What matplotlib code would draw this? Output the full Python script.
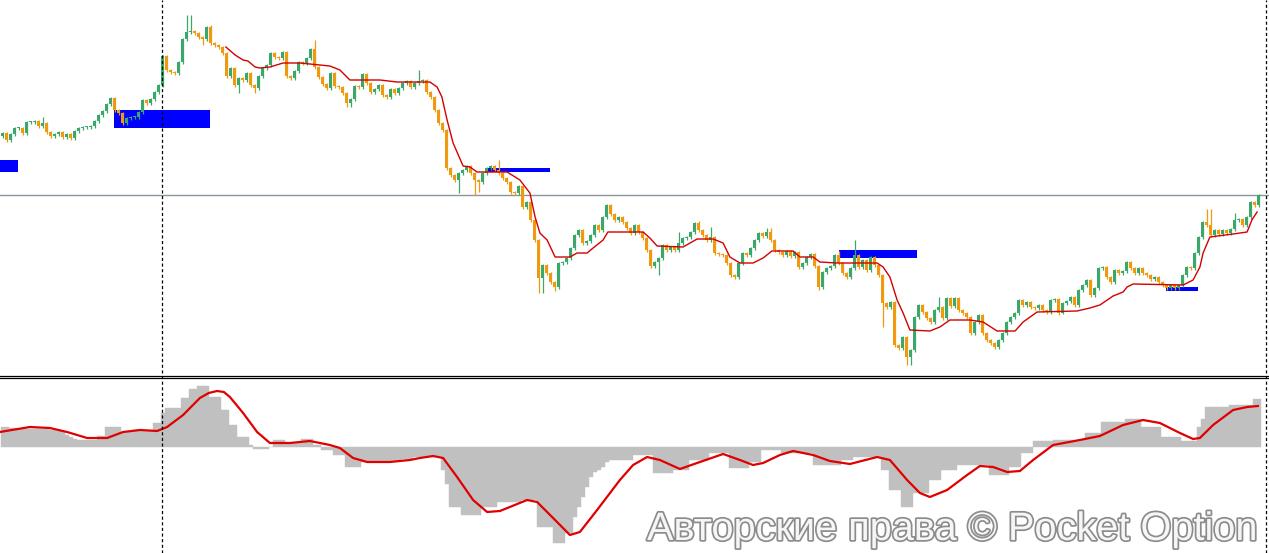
import numpy as np
import matplotlib.pyplot as plt
from matplotlib.patches import Rectangle
from matplotlib.lines import Line2D
import matplotlib.patheffects as pe

# ---------------------------------------------------------
# price data (bar closes, price units = chart points)
# ---------------------------------------------------------
FIRST_OPEN = 238
CLOSE = [
    241, 234, 240, 246, 246, 241, 252, 252, 253, 248, 251, 242, 238, 240, 242, 237, 240, 236, 243, 246,
    247, 247, 248, 253, 259, 263, 270, 276, 264, 261, 251, 256, 257, 257, 262, 274, 271, 275, 282, 289,
    318, 304, 302, 301, 312, 335, 342, 343, 341, 337, 335, 347, 331, 329, 327, 321, 298, 306, 289, 296,
    294, 301, 289, 286, 298, 306, 309, 321, 317, 316, 322, 298, 296, 303, 312, 311, 316, 325, 307, 297,
    290, 286, 301, 288, 287, 281, 271, 275, 288, 287, 300, 291, 282, 285, 289, 279, 277, 285, 281, 286,
    291, 293, 287, 291, 293, 294, 282, 277, 264, 251, 244, 206, 199, 194, 201, 204, 208, 201, 194, 192,
    201, 206, 208, 204, 201, 196, 192, 182, 181, 188, 167, 172, 154, 134, 96, 109, 101, 92, 87, 111,
    112, 116, 126, 139, 144, 131, 133, 139, 149, 144, 157, 169, 160, 154, 157, 152, 146, 141, 149, 142,
    136, 124, 108, 112, 116, 129, 124, 127, 124, 131, 136, 137, 142, 151, 144, 139, 134, 137, 121, 120,
    119, 111, 99, 97, 111, 121, 119, 126, 134, 141, 138, 142, 134, 124, 122, 119, 123, 118, 122, 107,
    111, 117, 120, 108, 87, 102, 106, 108, 119, 111, 101, 97, 106, 119, 107, 114, 104, 117, 109, 99,
    71, 67, 72, 29, 26, 37, 17, 24, 57, 69, 62, 56, 52, 64, 67, 56, 76, 68, 76, 64,
    61, 57, 41, 52, 59, 41, 34, 31, 27, 34, 41, 52, 57, 61, 74, 69, 72, 67, 66, 69,
    64, 62, 74, 75, 61, 71, 73, 77, 69, 84, 89, 94, 79, 86, 106, 107, 97, 92, 104, 101,
    103, 112, 106, 101, 106, 101, 99, 95, 97, 92, 89, 86, 89, 86, 89, 99, 107, 106, 121, 137,
    152, 149, 139, 144, 140, 144, 141, 145, 154, 155, 149, 157, 172, 169, 179,
]
# bars with long shadows: bar index -> extreme
HIGH_WICKS = {10: 257, 46: 359, 47: 359, 52: 349, 78: 334, 104: 304, 124: 214, 169: 142,
              174: 153, 177: 147, 191: 146, 192: 146, 209: 123, 213: 134, 234: 77,
              301: 165, 302: 165, 308: 161}
LOW_WICKS = {50: 329, 59: 281, 63: 281, 86: 267, 87: 267, 114: 181, 118: 179, 119: 182,
             134: 81, 135: 81, 138: 83, 164: 99, 204: 84, 220: 47, 226: 9, 227: 9, 265: 60}

# moving average (red line), sampled at bar positions
MA_X = [55.8, 58.1, 60.1, 61.3, 63.1, 64.3, 66.8, 70.1, 74.3, 79.3, 81.8, 84.3, 86.8, 94.3, 98.6,
        106.8, 108.6, 109.8, 111.1, 112.6, 115.1, 116.8, 118.6, 126.1, 129.3, 131.8, 133.1, 134.3,
        136.1, 138.1, 141.8, 143.6, 146.1, 147.6, 150.1, 151.3, 160.1, 161.8, 163.6, 170.1, 173.6,
        177.6, 180.1, 181.8, 184.3, 187.6, 190.1, 192.3, 197.6, 199.3, 202.6, 204.3, 208.6, 218.6,
        220.1, 221.8, 223.6, 225.1, 226.8, 231.8, 234.3, 236.8, 241.8, 245.1, 248.6, 253.1, 255.1,
        258.6, 268.6, 271.8, 274.3, 277.6, 280.1, 281.1, 282.6, 295.1, 297.6, 299.3, 300.1, 301.8,
        307.6, 311.1, 312.3, 313.6]
MA_Y = [327, 319, 314, 313, 307, 306, 307, 311, 311, 309, 308, 304, 294, 294, 292,
        292, 287, 277, 254, 231, 208, 207, 202, 202, 194, 181, 157, 141,
        134, 117, 117, 121, 121, 126, 134, 142, 142, 136, 128, 127, 135,
        135, 131, 117, 111, 111, 116, 123, 123, 117, 117, 112, 111, 111,
        107, 97, 74, 61, 44, 43, 47, 54, 54, 52, 43, 43, 52,
        62, 63, 66, 69, 78, 82, 87, 90, 89, 94, 107, 121, 137,
        140, 142, 154, 162]

# zones (blue boxes)
ZONE_START = [-0.7, 27.8, 120.8, 209.1, 290.8]
ZONE_END = [3.8, 51.8, 136.8, 228.6, 298.8]
ZONE_LOW = [202, 246, 202, 116, 83]
ZONE_HIGH = [214, 264, 206, 124, 87]

LEVEL = 179          # horizontal level
VLINE_BARS = [39.8, 315.8]

# oscillator (lower pane)
HIST = [
    20, 20, 19, 19, 18, 18, 18, 18, 18, 18, 18, 18, 17, 17, 17, 15, 12, 10, 8, 7,
    7, 7, 7, 7, 11, 11, 20, 20, 20, 20, 15, 15, 15, 17, 17, 17, 17, 17, 24, 24,
    34, 39, 39, 39, 39, 49, 49, 58, 58, 61, 61, 61, 50, 50, 50, 37, 37, 22, 22, 10,
    10, 10, 2, -2, -2, -2, -2, 0, 7, 7, 7, 4, 4, 4, 4, 8, 8, 8, 2, 2,
    -3, -3, -3, -8, -8, -8, -20, -20, -20, -20, -15, -15, -15, -15, -15, -15, -15, -14, -14, -14,
    -12, -12, -12, -10, -10, -10, -10, -10, -10, -10, -23, -37, -60, -60, -60, -68, -68, -68, -68, -68,
    -60, -60, -60, -60, -55, -55, -55, -55, -55, -55, -53, -53, -53, -53, -80, -80, -80, -80, -96, -96,
    -96, -86, -86, -70, -60, -50, -40, -30, -25, -23, -20, -15, -13, -13, -13, -13, -13, -13, -8, -8,
    -8, -8, -8, -26, -26, -26, -26, -26, -23, -23, -23, -23, -13, -13, -13, -13, -13, -6, -6, -6,
    -6, -6, -21, -21, -21, -21, -21, -15, -15, -15, -3, -3, -3, -3, -3, -6, -6, -6, -6, -6,
    -6, -6, -6, -18, -18, -18, -18, -18, -18, -18, -13, -13, -13, -10, -10, -10, -10, -10, -10, -10,
    -23, -23, -43, -43, -43, -60, -60, -60, -46, -46, -46, -46, -33, -33, -33, -23, -23, -23, -23, -18,
    -18, -18, -18, -18, -18, -18, -18, -28, -28, -28, -28, -28, -20, -20, -20, -6, -6, -6, 6, 6,
    6, 6, 6, 7, 7, 7, 7, 7, 7, 7, 7, 14, 14, 14, 14, 25, 25, 25, 25, 25,
    25, 28, 28, 28, 28, 20, 20, 20, 20, 20, 10, 10, 10, 10, 10, 6, 6, 6, 6, 20,
    28, 40, 40, 40, 40, 40, 40, 42, 42, 42, 42, 42, 42, 48, 48,
]
SIGNAL_X = [-0.7, 6.8, 11.8, 16.1, 21.1, 26.1, 30.1, 34.3, 38.6, 41.1, 45.1, 49.3, 51.5, 53.6, 55.3,
            56.8, 60.1, 63.6, 66.8, 71.8, 76.8, 81.8, 84.3, 87.6, 91.1, 96.8, 101.8, 104.3, 107.6,
            110.1, 113.6, 117.6, 121.1, 124.3, 131.1, 133.6, 137.6, 141.8, 144.3, 148.6, 154.3,
            157.6, 161.1, 164.3, 169.3, 174.3, 180.1, 184.3, 187.6, 190.1, 194.3, 197.6, 202.6,
            206.8, 211.8, 218.6, 221.8, 226.1, 229.3, 231.8, 236.1, 241.1, 244.3, 247.6, 251.1,
            254.3, 257.6, 262.6, 269.3, 274.3, 280.1, 285.1, 289.3, 294.3, 297.6, 299.3, 302.6,
            307.6, 311.1, 313.8]
SIGNAL_Y = [15, 20, 19, 15, 9, 9, 15, 17, 16, 20, 32, 49, 54, 56, 55,
            50, 34, 15, 4, 4, 6, 2, -1, -11, -15, -15, -13, -11, -9,
            -11, -30, -53, -65, -64, -53, -55, -71, -88, -85, -63, -33,
            -18, -10, -13, -22, -15, -7, -13, -18, -16, -8, -4, -8,
            -14, -17, -10, -13, -33, -46, -50, -43, -28, -19, -20, -25,
            -24, -13, 2, 7, 11, 22, 27, 24, 14, 8, 9, 22,
            37, 40, 41]

W, H = 1269, 553
fig = plt.figure(figsize=(W / 100, H / 100), dpi=100)
ax = fig.add_axes([0, 1 - 374 / H, 1, 374 / H])
ax2 = fig.add_axes([0, 0, 1, 174 / H])
XLIM = (-0.675, 316.575)
for a in (ax, ax2):
    a.set_xlim(*XLIM)
    a.set_axis_off()
ax.set_ylim(0, 374)
ax2.set_ylim(-106, 68)

# =========================================================
# candles
# =========================================================
closes = np.array(CLOSE, dtype=float)
opens = np.array([FIRST_OPEN] + CLOSE[:-1], dtype=float)
idx = np.arange(len(closes))
top = np.maximum(opens, closes)
bot = np.minimum(opens, closes)
highs = top + 1.5
lows = bot - 1.5
for i, v in HIGH_WICKS.items():
    highs[i] = v
for i, v in LOW_WICKS.items():
    lows[i] = v
cols = np.where(closes >= opens, '#3aa86b', '#f0990f')

for s, e, lo, hi in zip(ZONE_START, ZONE_END, ZONE_LOW, ZONE_HIGH):
    ax.add_patch(Rectangle((s, lo), e - s, hi - lo, color='#0000ff', lw=0, zorder=2))

ax.axhline(LEVEL, color='#8a949c', lw=1.0, zorder=1)
ax.vlines(idx, lows, highs, colors=cols, linewidth=0.9, zorder=3)
ax.bar(idx, np.maximum(top - bot, 1.0), bottom=bot, width=0.8, color=cols, linewidth=0, zorder=3)
ax.plot(MA_X, MA_Y, color='#d40000', lw=1.0, zorder=4)

# =========================================================
# oscillator
# =========================================================
ax2.bar(np.arange(len(HIST)), HIST, width=1.0, color='#c0c0c0', edgecolor='#c0c0c0', linewidth=0.3)
ax2.plot(SIGNAL_X, SIGNAL_Y, color='#e00000', lw=1.6, solid_joinstyle='round')

# separator and vertical dashed lines
for yy in (375.5, 377.5):
    fig.add_artist(Line2D([0, 1], [1 - yy / H, 1 - yy / H], color='black', lw=0.9))
for xb in VLINE_BARS:
    xf = (xb - XLIM[0]) / (XLIM[1] - XLIM[0])
    fig.add_artist(Line2D([xf, xf], [0, 1], color='black', lw=0.9, linestyle=(0, (2.5, 2))))

fig.text(647 / W, 1 - 540 / H, 'Авторские права © Pocket Option', fontsize=28.6,
         family=['Liberation Sans', 'DejaVu Sans'], color='#f6f6f6', va='baseline', ha='left',
         path_effects=[pe.withStroke(linewidth=2.5, foreground='#8c8c8c')])

fig.savefig('out.png', dpi=100)
